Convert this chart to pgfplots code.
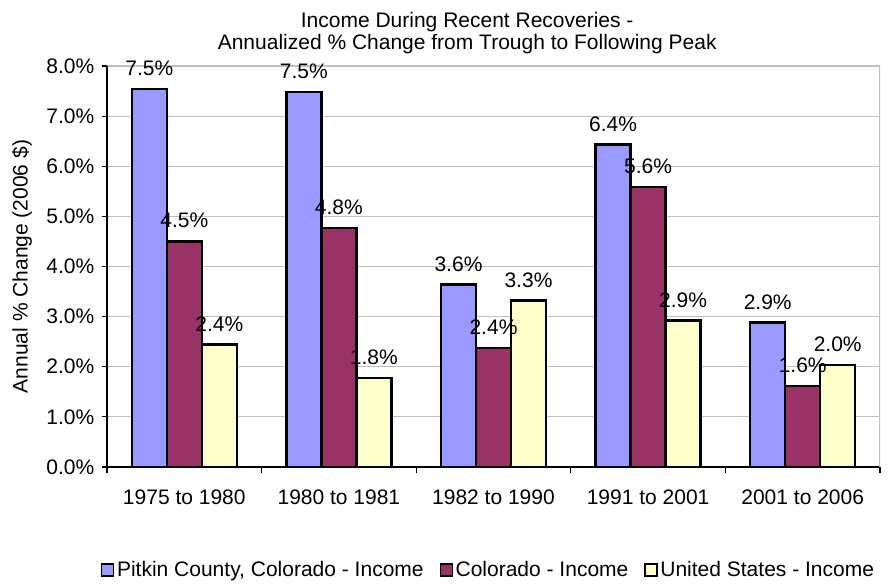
\documentclass[border=0pt]{standalone}
\usepackage{fontspec}
\setmainfont{Liberation Sans}
\usepackage{pgfplots}
\pgfplotsset{compat=1.18}

\definecolor{pitkin}{HTML}{9999FF}
\definecolor{colo}{HTML}{993366}
\definecolor{usa}{HTML}{FFFFCC}

\begin{document}
\begin{tikzpicture}[font=\fontsize{15.75}{18}\selectfont]
\begin{axis}[
    name=ax,
    scale only axis,
    width=579.75pt, height=300.75pt,
    ybar=0pt, bar width=0.2264,
    xmin=-0.5, xmax=4.5, ymin=0, ymax=8,
    axis x line*=bottom, axis y line*=left,
    axis line style={line width=1.2pt},
    tick align=outside,
    tick style={black, line width=0.8pt},
    major tick length=4pt, minor tick length=4.5pt,
    xtick={0,...,4},
    xticklabels={1975 to 1980, 1980 to 1981, 1982 to 1990, 1991 to 2001, 2001 to 2006},
    xticklabel style={yshift=-9.5pt},
    minor xtick={-0.5,0.5,...,4.5},
    major x tick style={draw=none},
    ytick={0,1,...,8},
    yticklabel={\pgfmathprintnumber[fixed,fixed zerofill,precision=1]{\tick}\%},
    yticklabel style={xshift=-2pt},
    /pgf/number format/assume math mode=true,
    ymajorgrids, grid style={line width=0.8pt, black!25},
    ylabel={Annual \% Change (2006 \$)},
    ylabel style={at={(axis description cs:-0.110,0.5)}, anchor=center},
    title={Income During Recent Recoveries -\\Annualized \% Change from Trough to Following Peak},
    title style={align=center, at={(axis description cs:0.466,1)}, anchor=south, yshift=-0.5pt, font=\fontsize{15.75}{16.75}\selectfont},
    nodes near coords={\pgfmathprintnumber[fixed,fixed zerofill,precision=1]{\pgfplotspointmeta}\%},
    every node near coord/.append style={anchor=center, yshift=15.5pt, black},
    legend style={at={(axis description cs:0.494,-0.257)}, anchor=center, draw=none, legend columns=3,
        /tikz/every even column/.append style={column sep=10pt}},
    legend image code/.code={\draw[#1, line width=1pt] (0pt,-4.5pt) rectangle (9pt,4.5pt);},
]
\addplot[fill=pitkin, draw=black, line width=1.8pt] coordinates {(0,7.54) (1,7.48) (2,3.64) (3,6.43) (4,2.88)};
\addplot[fill=colo, draw=black, line width=1.8pt] coordinates {(0,4.50) (1,4.77) (2,2.37) (3,5.58) (4,1.61)};
\addplot[fill=usa, draw=black, line width=1.8pt] coordinates {(0,2.44) (1,1.78) (2,3.32) (3,2.92) (4,2.03)};
\legend{{Pitkin County, Colorado - Income}, {Colorado - Income}, {United States - Income}}
\draw[black!25, line width=0.8pt] (rel axis cs:1,0) -- (rel axis cs:1,1);
\end{axis}
\pgfresetboundingbox
\path ([shift={(-80.25pt,-87.75pt)}]ax.south west) rectangle ([shift={(7.5pt,49.5pt)}]ax.north east);
\end{tikzpicture}
\end{document}
